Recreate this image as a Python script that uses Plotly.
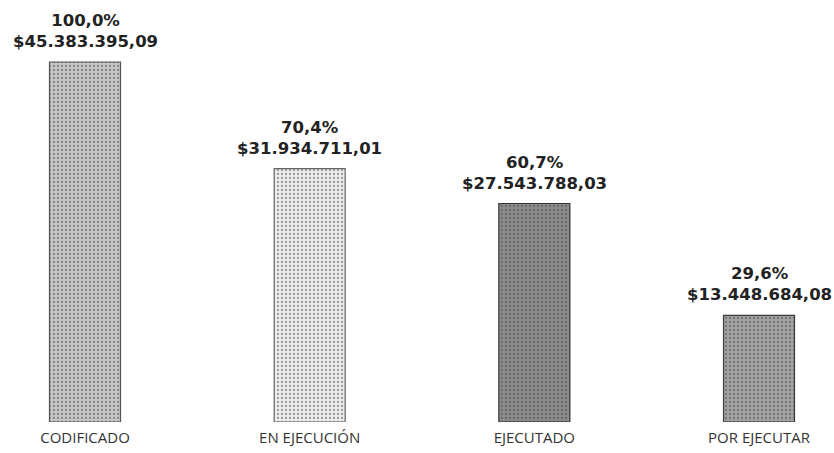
import plotly.graph_objects as go

# Budget execution summary
categorias = ["CODIFICADO", "EN EJECUCIÓN", "EJECUTADO", "POR EJECUTAR"]
montos = [45383395.09, 31934711.01, 27543788.03, 13448684.08]
porcentajes = [100.0, 70.4, 60.7, 29.6]

colores_base = ["#c6c6c6", "#ededed", "#8c8c8c", "#a2a2a2"]
colores_punto = ["#7a7a7a", "#8a8a8a", "#3c3c3c", "#555555"]
colores_borde = ["#555555", "#666666", "#333333", "#3a3a3a"]


def fmt_monto(v):
    s = f"{v:,.2f}"
    return "$" + s.replace(",", "X").replace(".", ",").replace("X", ".")


def fmt_pct(p):
    return f"{p:.1f}%".replace(".", ",")


fig = go.Figure()

fig.add_trace(go.Bar(
    x=categorias,
    y=montos,
    width=0.316,
    marker=dict(
        color=colores_base,
        line=dict(color=colores_borde, width=1.2),
        pattern=dict(shape=".", fgcolor=colores_punto, bgcolor=colores_base,
                     size=4, solidity=0.25, fillmode="overlay"),
    ),
    hoverinfo="skip",
))

for cat, v, p in zip(categorias, montos, porcentajes):
    fig.add_annotation(
        x=cat, y=v, yanchor="bottom", yshift=9,
        text=f"<b>{fmt_pct(p)}</b><br><b>{fmt_monto(v)}</b>",
        showarrow=False,
        font=dict(family="DejaVu Sans", size=16.5, color="#222222"),
    )

# 224.67 px per category, first category centred at x=85 px
x0 = -85 / 224.67
fig.update_xaxes(
    range=[x0, x0 + 834 / 224.67],
    showgrid=False, zeroline=False, showline=False, ticks="",
    ticklabelstandoff=5,
    tickfont=dict(family="Open Sans", size=15, color="#333333"),
)
fig.update_yaxes(
    range=[0, max(montos) * 422 / 360],
    visible=False, showgrid=False, zeroline=False,
)
fig.update_layout(
    width=834, height=453,
    margin=dict(l=0, r=0, t=0, b=31),
    paper_bgcolor="white", plot_bgcolor="white",
    showlegend=False,
)

fig.write_html("out.html")
